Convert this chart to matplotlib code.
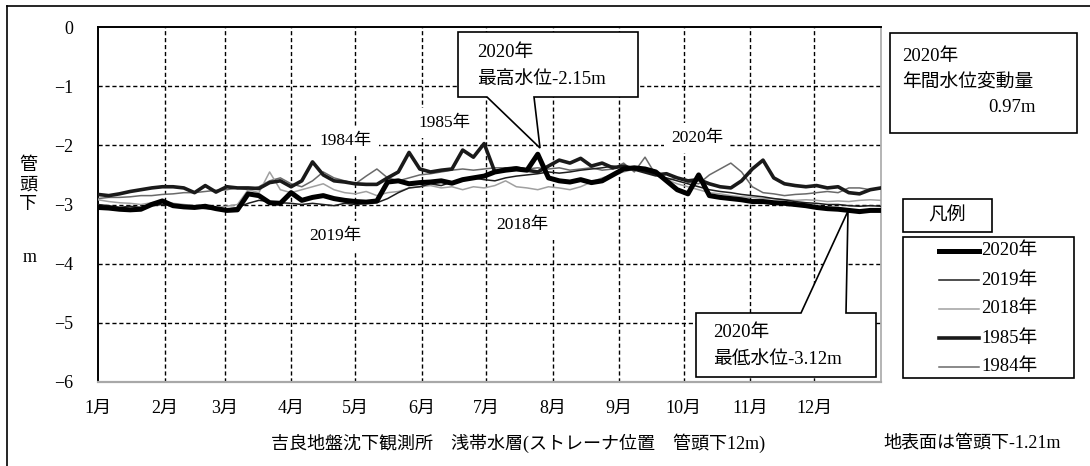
import matplotlib
matplotlib.use("Agg")
import matplotlib.pyplot as plt
from matplotlib.transforms import Affine2D
from matplotlib.patches import Polygon, Rectangle
from matplotlib.lines import Line2D
import numpy as np

plt.rcParams['font.family'] = ['Liberation Serif', 'Noto Sans CJK JP']
FS = 13
FSB = 13.5

# ---- data (day of year, water level in m below pipe head) ----
days = list(range(0, 366, 5))

lv_2020 = [-3.05, -3.06, -3.08, -3.09, -3.08, -3.00, -2.94, -3.02, -3.04, -3.05,
           -3.03, -3.07, -3.10, -3.09, -2.82, -2.85, -2.97, -2.98, -2.80, -2.93,
           -2.88, -2.85, -2.90, -2.93, -2.95, -2.96, -2.94, -2.62, -2.60, -2.65,
           -2.63, -2.62, -2.60, -2.64, -2.58, -2.55, -2.52, -2.45, -2.42, -2.40,
           -2.42, -2.15, -2.55, -2.60, -2.62, -2.58, -2.63, -2.60, -2.50, -2.40,
           -2.38, -2.40, -2.45, -2.60, -2.75, -2.82, -2.50, -2.85, -2.88, -2.90,
           -2.92, -2.95, -2.95, -2.97, -2.98, -3.00, -3.02, -3.05, -3.07, -3.08,
           -3.10, -3.12, -3.10, -3.10]

lv_2019 = [-3.00, -3.02, -3.05, -3.03, -3.05, -3.02, -3.00, -3.02, -3.03, -3.05,
           -3.07, -3.08, -3.08, -3.05, -2.98, -2.93, -2.95, -2.97, -2.98, -3.00,
           -2.98, -3.00, -3.02, -2.98, -3.00, -2.98, -2.97, -2.90, -2.80, -2.72,
           -2.70, -2.65, -2.68, -2.62, -2.60, -2.55, -2.58, -2.60, -2.55, -2.52,
           -2.50, -2.48, -2.45, -2.47, -2.45, -2.42, -2.40, -2.38, -2.35, -2.38,
           -2.40, -2.45, -2.50, -2.55, -2.60, -2.65, -2.70, -2.75, -2.78, -2.80,
           -2.83, -2.85, -2.87, -2.90, -2.92, -2.95, -2.97, -2.98, -3.00, -3.00,
           -3.02, -3.03, -3.02, -3.03]

lv_2018 = [-2.92, -2.95, -2.97, -2.98, -3.00, -2.97, -2.95, -2.98, -3.00, -3.02,
           -3.03, -3.05, -3.03, -3.00, -2.75, -2.80, -2.45, -2.75, -2.80, -2.75,
           -2.70, -2.65, -2.75, -2.80, -2.82, -2.78, -2.85, -2.80, -2.78, -2.72,
           -2.70, -2.68, -2.72, -2.70, -2.75, -2.70, -2.72, -2.68, -2.60, -2.70,
           -2.72, -2.75, -2.70, -2.72, -2.75, -2.70, -2.62, -2.55, -2.50, -2.45,
           -2.40, -2.42, -2.50, -2.58, -2.65, -2.70, -2.75, -2.80, -2.82, -2.85,
           -2.87, -2.88, -2.90, -2.90, -2.92, -2.93, -2.92, -2.93, -2.95, -2.94,
           -2.95, -2.93, -2.92, -2.93]

lv_1985 = [-2.83, -2.85, -2.82, -2.78, -2.75, -2.72, -2.70, -2.70, -2.72, -2.80,
           -2.68, -2.79, -2.70, -2.72, -2.72, -2.73, -2.63, -2.60, -2.70, -2.60,
           -2.28, -2.50, -2.60, -2.62, -2.65, -2.66, -2.66, -2.55, -2.45, -2.12,
           -2.40, -2.45, -2.42, -2.40, -2.08, -2.20, -1.97, -2.45, -2.40, -2.38,
           -2.42, -2.45, -2.35, -2.25, -2.30, -2.22, -2.35, -2.30, -2.38, -2.35,
           -2.40, -2.45, -2.50, -2.48, -2.55, -2.60, -2.58, -2.65, -2.70, -2.72,
           -2.60, -2.40, -2.25, -2.55, -2.65, -2.68, -2.70, -2.68, -2.72, -2.70,
           -2.80, -2.82, -2.75, -2.72]

lv_1984 = [-2.90, -2.88, -2.88, -2.87, -2.85, -2.85, -2.83, -2.82, -2.80, -2.80,
           -2.78, -2.76, -2.75, -2.72, -2.75, -2.70, -2.60, -2.55, -2.65, -2.70,
           -2.60, -2.45, -2.55, -2.60, -2.65, -2.52, -2.40, -2.55, -2.60, -2.55,
           -2.50, -2.48, -2.45, -2.42, -2.40, -2.42, -2.40, -2.38, -2.38, -2.40,
           -2.40, -2.38, -2.40, -2.38, -2.42, -2.40, -2.38, -2.42, -2.40, -2.30,
           -2.45, -2.20, -2.50, -2.60, -2.55, -2.62, -2.65, -2.50, -2.40, -2.30,
           -2.45, -2.70, -2.80, -2.82, -2.85, -2.83, -2.82, -2.80, -2.78, -2.80,
           -2.72, -2.72, -2.75, -2.73]

series_names = ['2020年', '2019年', '2018年', '1985年', '1984年']
series_vals = [lv_2020, lv_2019, lv_2018, lv_1985, lv_1984]
series_colors = ['#000000', '#1e1e1e', '#a0a0a0', '#1a1a1a', '#6a6a6a']
series_widths = [3.6, 1.1, 1.1, 2.6, 1.1]
series_z = [10, 7, 6, 9, 5]

month_days = [0, 31, 59, 90, 120, 151, 181, 212, 243, 273, 304, 334]
month_labels = ['1月', '2月', '3月', '4月', '5月', '6月', '7月', '8月', '9月', '10月', '11月', '12月']
y_ticks = [0, -1, -2, -3, -4, -5, -6]
y_tick_labels = ['0', '−1', '−2', '−3', '−4', '−5', '−6']

# ---- figure ----
W, H = 1090, 466
fig = plt.figure(figsize=(W / 100, H / 100), dpi=100)
pix = Affine2D().scale(1 / W, -1 / H).translate(0, 1) + fig.transFigure

ax = fig.add_axes([98 / W, 1 - 382 / H, 783 / W, 355 / H])
ax.set_xlim(0, 365)
ax.set_ylim(-6, 0)

for gx in month_days[1:]:
    ax.axvline(gx, color='black', lw=1.0, ls=(0, (3, 2)), zorder=1)
for gy in y_ticks[1:-1]:
    ax.axhline(gy, color='black', lw=1.0, ls=(0, (3, 2)), zorder=1)

for name, vals, c, lw, z in zip(series_names, series_vals, series_colors, series_widths, series_z):
    ax.plot(days, vals, color=c, lw=lw, zorder=z, solid_joinstyle='round')

ax.set_xticks(month_days)
ax.set_xticklabels(month_labels, fontsize=FS)
ax.set_yticks(y_ticks)
ax.set_yticklabels(y_tick_labels, fontsize=FS)
ax.tick_params(axis='x', length=0, pad=13)
ax.tick_params(axis='y', length=0, pad=18)

ax.spines['left'].set_color('black')
ax.spines['left'].set_linewidth(1.4)
ax.spines['top'].set_color('black')
ax.spines['top'].set_linewidth(1.4)
ax.spines['bottom'].set_color('#a8a8a8')
ax.spines['bottom'].set_linewidth(1.6)
ax.spines['right'].set_color('#a8a8a8')
ax.spines['right'].set_linestyle((0, (2, 1)))
ax.spines['right'].set_linewidth(1.2)

# inline series labels (white background breaks the grid)
inline = [('1984年', 346, 141), ('1985年', 444, 123), ('2020年', 697, 138),
          ('2019年', 335, 236), ('2018年', 522, 225)]
for t, x, y in inline:
    fig.text(x / W, 1 - y / H, t, fontsize=FS - 0.5, ha='center', va='center', zorder=3,
             bbox=dict(facecolor='white', edgecolor='none', pad=5))

# outer frame (only left and top visible)
fig.add_artist(Line2D([7, 7], [6, 466], transform=pix, color='black', lw=1.2))
fig.add_artist(Line2D([7, 1090], [6, 6], transform=pix, color='black', lw=1.2))

# y axis label
fig.text(28 / W, 1 - 185 / H, '管\n頭\n下', fontsize=FS, ha='center', va='center', linespacing=1.2)
fig.text(30 / W, 1 - 258 / H, 'm', fontsize=FS, ha='center', va='center')

# bottom captions
fig.text(518 / W, 1 - 443 / H, '吉良地盤沈下観測所　浅帯水層(ストレーナ位置　管頭下12m)', fontsize=FS, ha='center', va='center')
fig.text(972 / W, 1 - 443 / H, '地表面は管頭下-1.21m', fontsize=FS, ha='center', va='center')

# max callout
pmax = Polygon([(458, 32), (638, 32), (638, 97), (534, 97), (540, 148), (487, 97), (458, 97)],
               closed=True, transform=pix, facecolor='white', edgecolor='black', lw=1.2, zorder=20)
fig.add_artist(pmax)
fig.text(477 / W, 1 - 53 / H, '2020年', fontsize=FSB, ha='left', va='center', zorder=21)
fig.text(477 / W, 1 - 79 / H, '最高水位-2.15m', fontsize=FSB, ha='left', va='center', zorder=21)

# min callout
pmin = Polygon([(696, 313), (801, 313), (848, 211), (846, 313), (876, 313), (876, 377), (696, 377)],
               closed=True, transform=pix, facecolor='white', edgecolor='black', lw=1.2, zorder=20)
fig.add_artist(pmin)
fig.text(713 / W, 1 - 333 / H, '2020年', fontsize=FSB, ha='left', va='center', zorder=21)
fig.text(713 / W, 1 - 359 / H, '最低水位-3.12m', fontsize=FSB, ha='left', va='center', zorder=21)

# annual change box
fig.add_artist(Rectangle((890, 33), 187, 100, transform=pix, facecolor='white', edgecolor='black', lw=1.2, zorder=20))
fig.text(902 / W, 1 - 57 / H, '2020年', fontsize=FSB, ha='left', va='center', zorder=21)
fig.text(902 / W, 1 - 83 / H, '年間水位変動量', fontsize=FSB, ha='left', va='center', zorder=21)
fig.text(1036 / W, 1 - 108 / H, '0.97m', fontsize=FSB, ha='right', va='center', zorder=21)

# legend
fig.add_artist(Rectangle((903, 199), 89, 33, transform=pix, facecolor='white', edgecolor='black', lw=1.2, zorder=20))
fig.text(947 / W, 1 - 216 / H, '凡例', fontsize=FSB, ha='center', va='center', zorder=21)
fig.add_artist(Rectangle((903, 237), 171, 141, transform=pix, facecolor='white', edgecolor='black', lw=1.2, zorder=20))
rows = [251, 280, 309, 338, 367]
for name, c, lw, yy in zip(series_names, series_colors, series_widths, rows):
    fig.add_artist(Line2D([939, 979], [yy, yy], transform=pix, color=c, lw=lw, zorder=21))
    fig.text(981 / W, 1 - yy / H, name, fontsize=FSB, ha='left', va='center', zorder=21)

fig.savefig('out.png', dpi=100)
